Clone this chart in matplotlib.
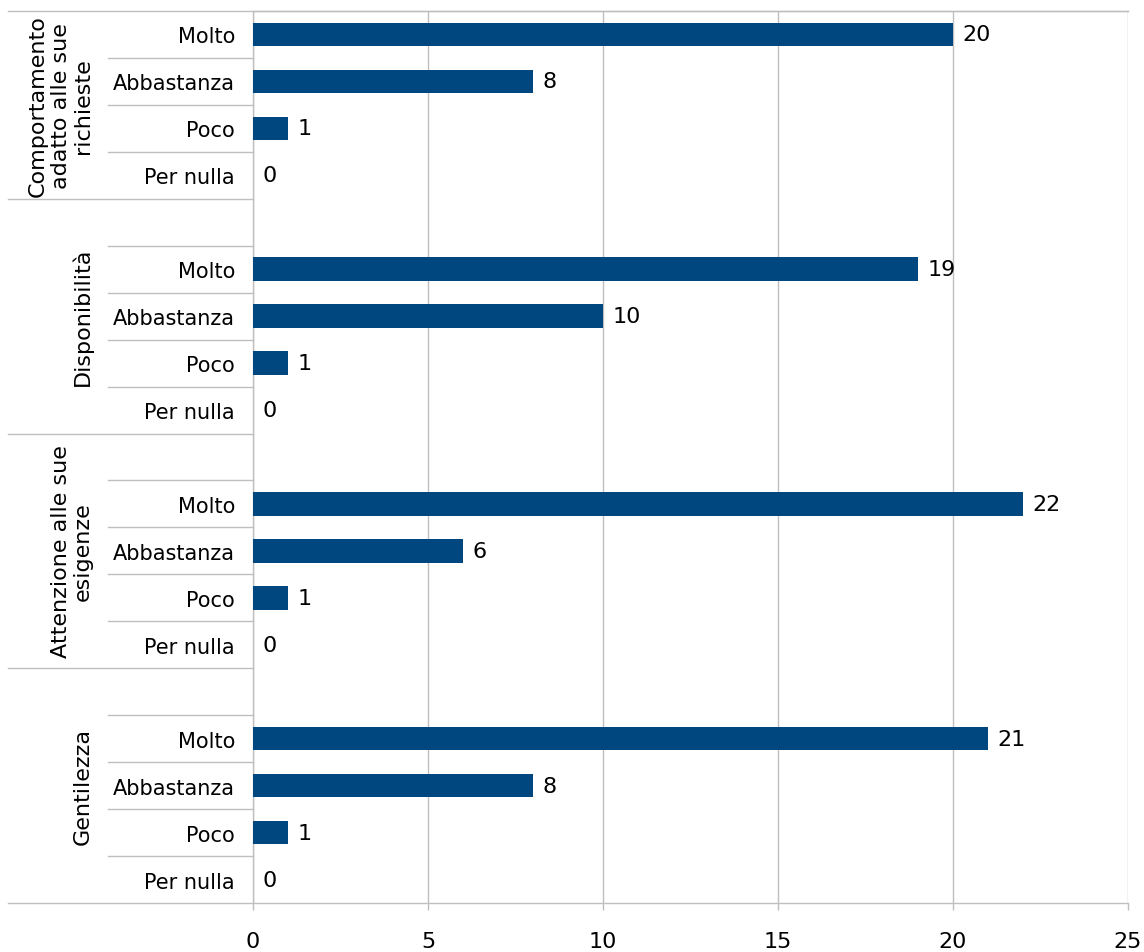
import numpy as np
import matplotlib
matplotlib.use("Agg")
import matplotlib.pyplot as plt
import matplotlib.transforms as mtransforms

# survey answers per aspect
groups = ["Comportamento\nadatto alle sue\nrichieste", "Disponibilità",
          "Attenzione alle sue\nesigenze", "Gentilezza"]
answers = ["Molto", "Abbastanza", "Poco", "Per nulla"]
comportamento = [20, 8, 1, 0]
disponibilita = [19, 10, 1, 0]
attenzione = [22, 6, 1, 0]
gentilezza = [21, 8, 1, 0]
series = [comportamento, disponibilita, attenzione, gentilezza]
x_ticks = [0, 5, 10, 15, 20, 25]

bar_color = "#00467F"
line_color = "#BFBFBF"

plt.rcParams["font.family"] = "DejaVu Sans"

fig = plt.figure(figsize=(11.44, 9.53), dpi=100)
ax = fig.add_axes([253 / 1144, 1 - 904 / 953, 875 / 1144, 892 / 953])

# row slots: first group has 4 rows, the others start with an empty slot
slot_starts = [0, 5, 10, 15]
group_bounds = [(0, 4), (4, 9), (9, 14), (14, 19)]

ypos, vals, labels = [], [], []
for start, vals_g in zip(slot_starts, series):
    for k, (a, v) in enumerate(zip(answers, vals_g)):
        ypos.append(start + k + 0.5)
        vals.append(v)
        labels.append(a)

ax.barh(ypos, vals, height=0.5, color=bar_color, zorder=3)
for y, v in zip(ypos, vals):
    ax.annotate(str(v), (v, y), xytext=(7, 0), textcoords="offset points",
                ha="left", va="center", fontsize=16, color="#000000")

ax.set_ylim(19, 0)
ax.set_xlim(0, 25)
ax.set_yticks(ypos)
ax.set_yticklabels(labels, fontsize=15, color="#000000")
ax.tick_params(axis="y", length=0, pad=13)
ax.set_xticks(x_ticks)
ax.set_xticklabels([str(t) for t in x_ticks], fontsize=16, color="#000000")
ax.tick_params(axis="x", length=5, width=1, color=line_color, pad=15, direction="out")

ax.xaxis.grid(True, color=line_color, linewidth=1, zorder=0)
for s in ax.spines.values():
    s.set_color(line_color)
    s.set_linewidth(1)
ax.spines["right"].set_visible(False)
ax.spines["bottom"].set_visible(False)

# category axis separators drawn in the label area
trans = mtransforms.blended_transform_factory(ax.transAxes, ax.transData)
x_long = (8 - 253) / 875
x_short = (108 - 253) / 875
for lo, hi in group_bounds:
    ax.plot([x_long, 1 if hi == 19 else 0], [hi, hi], transform=trans,
            color=line_color, linewidth=1, clip_on=False, zorder=1)
ax.plot([x_long, 1], [0, 0], transform=trans, color=line_color,
        linewidth=1, clip_on=False, zorder=1)
for start in slot_starts:
    first = 1 if start == 0 else 0
    for k in range(first, 4):
        yb = start + k
        ax.plot([x_short, 0], [yb, yb], transform=trans, color=line_color,
                linewidth=1, clip_on=False, zorder=1)

# group names, rotated
x_grp = (93 - 253) / 875
for name, (lo, hi) in zip(groups, group_bounds):
    ax.text(x_grp, (lo + hi) / 2, name, transform=trans, rotation=90,
            ha="right", va="center", multialignment="center",
            fontsize=16, linespacing=1.15, color="#000000")

fig.savefig("out.png", dpi=100)
